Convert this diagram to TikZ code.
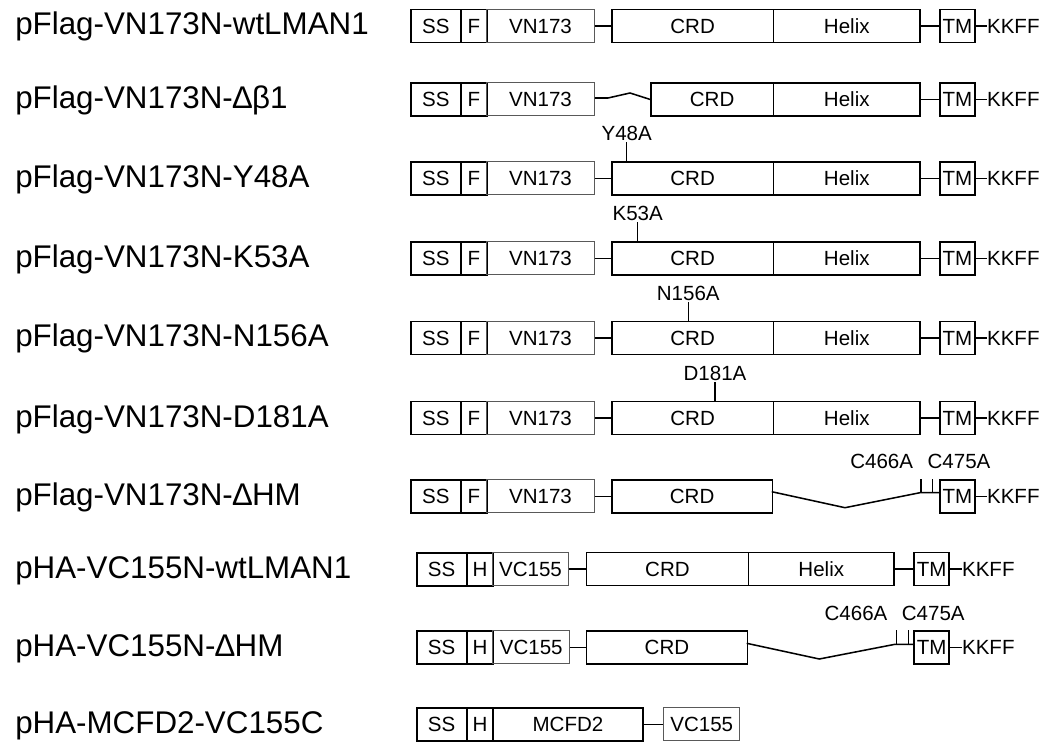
\documentclass[tikz,border=0pt]{standalone}
\usepackage{fontspec}
\setmainfont{Liberation Sans}
\newcommand{\dbox}[6]{\node[#5, minimum width={(#3-(#2))*0.75pt}, anchor=west] (#1) at (#2,#4) {#6};}
\tikzset{
  box/.style={draw=black, line width=1.15pt, inner sep=0pt, minimum height=24.75pt, font=\fontsize{15.4}{18}\selectfont},
  thickbox/.style={box, line width=1.4pt},
  thinbox/.style={box, draw=black!65, line width=0.7pt},
  txt/.style={inner sep=0pt, font=\fontsize{15.4}{18}\selectfont},
  lbl/.style={inner sep=0pt, anchor=base west, font=\fontsize{23.5}{28}\selectfont},
  link/.style={line width=1.15pt},
}
\begin{document}
\begin{tikzpicture}[x=0.75pt, y=-0.75pt]
\useasboundingbox (0,0) rectangle (1046,745);

% ---------- labels ----------
\node[lbl] (l1) at (15,35) {pFlag-VN173N-wtLMAN1};
\node[lbl] (l2) at (15,108.4) {pFlag-VN173N-∆β1};
\node[lbl] (l3) at (15,187.4) {pFlag-VN173N-Y48A};
\node[lbl] (l4) at (15,267.3) {pFlag-VN173N-K53A};
\node[lbl] (l5) at (15,347) {pFlag-VN173N-N156A};
\node[lbl] (l6) at (15,427) {pFlag-VN173N-D181A};
\node[lbl] (l7) at (15,505.3) {pFlag-VN173N-∆HM};
\node[lbl] (l8) at (15,578.2) {pHA-VC155N-wtLMAN1};
\node[lbl] (l9) at (15,656.3) {pHA-VC155N-∆HM};
\node[lbl] (l10) at (15,733.3) {pHA-MCFD2-VC155C};

% ---------- row 1 ----------
\dbox{ss1}{410}{460}{26}{thickbox}{SS}
\dbox{f1}{460}{486}{26}{thickbox}{F}
\dbox{vn1}{486}{594}{26}{thinbox}{VN173}
\dbox{crd1}{611}{772.7}{26}{box}{CRD}
\dbox{hx1}{772.7}{919.3}{26}{box}{Helix}
\dbox{tm1}{939.3}{974}{26}{box}{TM}
\node[txt, anchor=west] (kk1) at (986.8,26) {KKFF};
\draw[link] (vn1.east) -- (crd1.west);
\draw[link] (hx1.east) -- (tm1.west);
\draw[link] (tm1.east) -- (kk1.west);

% ---------- row 2 ----------
\dbox{ss2}{410}{460}{99.4}{thickbox}{SS}
\dbox{f2}{460}{486}{99.4}{thickbox}{F}
\dbox{vn2}{486}{594}{99.4}{thinbox}{VN173}
\dbox{crd2}{650}{772.7}{99.4}{box}{CRD}
\dbox{hx2}{772.7}{919.3}{99.4}{box}{Helix}
\dbox{tm2}{939.3}{974}{99.4}{box}{TM}
\node[txt, anchor=west] (kk2) at (986.8,99.4) {KKFF};
\coordinate (z2a) at (608,98);
\coordinate (z2b) at (630,93);
\draw[link] (vn2.east |- z2a) -- (z2a) -- (z2b) -- (crd2.west);
\draw[link] (hx2.east) -- (tm2.west);
\draw[link] (tm2.east) -- (kk2.west);

% ---------- rows 3-6 (point mutants) ----------
\foreach \r/\y/\mx/\mt in {3/178.4/626.7/Y48A, 4/258.3/637.7/K53A, 5/338/688.3/N156A, 6/418/715/D181A}{
  \dbox{ss\r}{410}{460}{\y}{thickbox}{SS}
  \dbox{f\r}{460}{486}{\y}{thickbox}{F}
  \dbox{vn\r}{486}{594}{\y}{thinbox}{VN173}
  \dbox{crd\r}{611}{772.7}{\y}{box}{CRD}
  \dbox{hx\r}{772.7}{919.3}{\y}{box}{Helix}
  \dbox{tm\r}{939.3}{974}{\y}{box}{TM}
  \node[txt, anchor=west] (kk\r) at (986.8,\y) {KKFF};
  \draw[link] (vn\r.east) -- (crd\r.west);
  \draw[link] (hx\r.east) -- (tm\r.west);
  \draw[link] (tm\r.east) -- (kk\r.west);
  \node[txt, anchor=south] (mu\r) at (\mx,\y-37) {\mt};
  \draw[link] (mu\r.south) ++(0,1) -- (mu\r.south |- crd\r.north);
}

% ---------- row 7 ----------
\dbox{ss7}{410}{460}{496.3}{thickbox}{SS}
\dbox{f7}{460}{486}{496.3}{thickbox}{F}
\dbox{vn7}{486}{594}{496.3}{thinbox}{VN173}
\dbox{crd7}{611}{771.7}{496.3}{box}{CRD}
\dbox{tm7}{939.3}{974}{496.3}{box}{TM}
\node[txt, anchor=west] (kk7) at (986.8,496.3) {KKFF};
\draw[link] (vn7.east) -- (crd7.west);
\coordinate (a7) at (771.7,491.7);
\coordinate (v7) at (845,507.7);
\coordinate (k7) at (920,492.7);
\coordinate (t7a) at (921,492.7);
\coordinate (t7b) at (932.3,492.7);
\draw[link] (a7) -- (v7) -- (k7) -- (k7 -| tm7.west);
\draw[link] (t7a) -- (t7a |- tm7.north);
\draw[link] (t7b) -- (t7b |- tm7.north);
\draw[link] (tm7.east) -- (kk7.west);
\node[txt, anchor=base] (c7a) at (881.7,468.3) {C466A};
\node[txt, anchor=base] (c7b) at (959,468.3) {C475A};

% ---------- row 8 ----------
\dbox{ss8}{415.7}{465.7}{569.2}{thickbox}{SS}
\dbox{h8}{465.7}{492.3}{569.2}{thickbox}{H}
\dbox{vc8}{492.3}{567.7}{569.2}{thinbox}{VC155}
\dbox{crd8}{585.7}{747.7}{569.2}{box}{CRD}
\dbox{hx8}{747.7}{893.3}{569.2}{box}{Helix}
\dbox{tm8}{913.3}{948.3}{569.2}{box}{TM}
\node[txt, anchor=west] (kk8) at (961.8,569.2) {KKFF};
\draw[link] (vc8.east) -- (crd8.west);
\draw[link] (hx8.east) -- (tm8.west);
\draw[link] (tm8.east) -- (kk8.west);

% ---------- row 9 ----------
\dbox{ss9}{415.7}{465.7}{647.3}{thickbox}{SS}
\dbox{h9}{465.7}{492.3}{647.3}{thickbox}{H}
\dbox{vc9}{492.3}{569.3}{647.3}{thinbox}{VC155}
\dbox{crd9}{585.7}{746.7}{647.3}{box}{CRD}
\dbox{tm9}{913.3}{948.3}{647.3}{box}{TM}
\node[txt, anchor=west] (kk9) at (961.8,647.3) {KKFF};
\draw[link] (vc9.east) -- (crd9.west);
\coordinate (a9) at (746.7,643.3);
\coordinate (v9) at (819.3,659);
\coordinate (k9) at (895,644.3);
\coordinate (t9a) at (896.7,644.3);
\coordinate (t9b) at (908.3,644.3);
\draw[link] (a9) -- (v9) -- (k9) -- (k9 -| tm9.west);
\draw[link] (t9a) -- (t9a |- tm9.north);
\draw[link] (t9b) -- (t9b |- tm9.north);
\draw[link] (tm9.east) -- (kk9.west);
\node[txt, anchor=base] (c9a) at (856,620) {C466A};
\node[txt, anchor=base] (c9b) at (933.3,620) {C475A};

% ---------- row 10 ----------
\dbox{ss10}{415.7}{465.7}{724.3}{thickbox}{SS}
\dbox{h10}{465.7}{492.3}{724.3}{thickbox}{H}
\dbox{mc10}{492.3}{641.7}{724.3}{thickbox}{MCFD2}
\dbox{vc10}{663.3}{739.3}{724.3}{thinbox}{VC155}
\draw[link] (mc10.east) -- (vc10.west);
\end{tikzpicture}
\end{document}
